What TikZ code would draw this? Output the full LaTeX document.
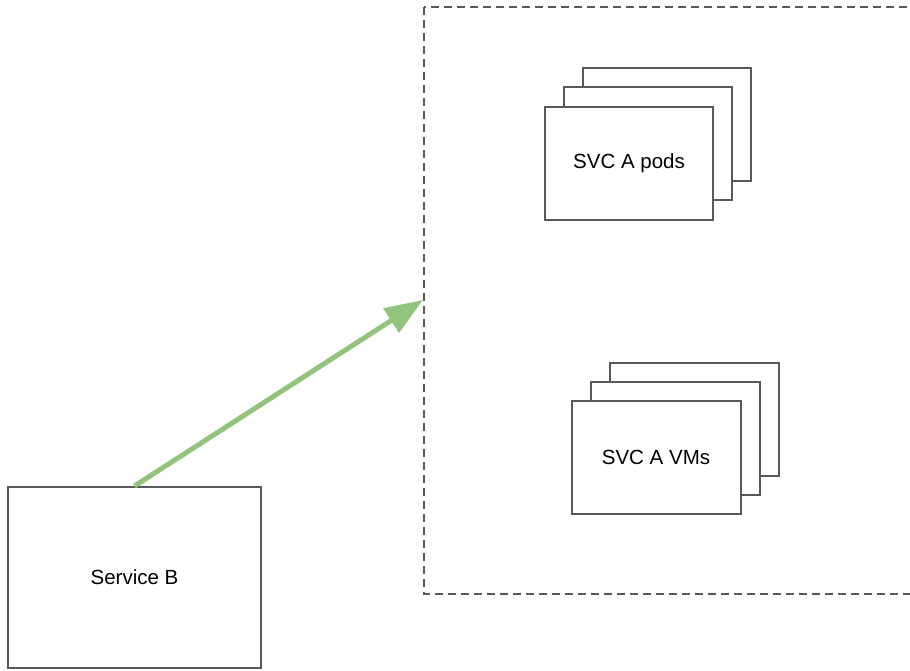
\documentclass[tikz,border=0pt]{standalone}
\usepackage{fontspec}
\setmainfont{Liberation Sans}
\usetikzlibrary{arrows.meta}
\definecolor{edge}{HTML}{595959}
\definecolor{flow}{HTML}{93C47D}
\tikzset{
  card/.style={draw=edge, line width=2pt, fill=white, minimum width=168pt, minimum height=113pt, inner sep=0pt, font=\fontsize{20.5}{24}\selectfont},
  frame/.style={draw=edge, line width=2pt, dash pattern=on 8pt off 5pt},
  flowarrow/.style={draw=flow, line width=5pt, -{Triangle[length=38pt, width=28pt]}}
}
\begin{document}
\begin{tikzpicture}[x=1pt, y=-1pt]
  \useasboundingbox (0,0) rectangle (910,671);
  \fill[white] (0,0) rectangle (910,671);
  % dashed group boundary (runs past the right edge)
  \begin{scope}
    \clip (0,0) rectangle (910,671);
    \draw[frame] (424,7) rectangle (930,594);
  \end{scope}
  \coordinate (groupwest) at (423,300);

  % stacked pod cards
  \node[card] (podsC) at (667,125) {};
  \node[card] (podsB) at (648,144) {};
  \node[card] (pods) at (629,163.5) {SVC A pods};

  % stacked VM cards
  \node[card, minimum width=169pt] (vmsC) at (694,419) {};
  \node[card, minimum width=169pt] (vmsB) at (675,438) {};
  \node[card, minimum width=169pt] (vms) at (656,457.5) {SVC A VMs};

  % client service
  \node[card, minimum width=253pt, minimum height=181pt] (svcb) at (134.5,577.5) {Service B};

  \draw[flowarrow] (svcb.north) -- (groupwest);
\end{tikzpicture}
\end{document}
